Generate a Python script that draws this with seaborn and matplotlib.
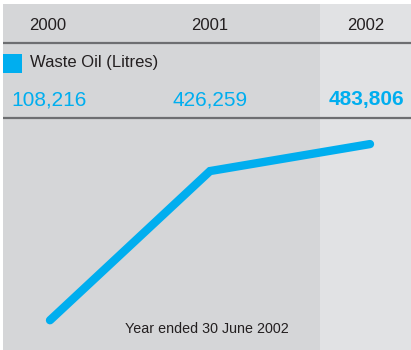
import matplotlib
matplotlib.use("Agg")
import matplotlib.pyplot as plt
import seaborn as sns
import pandas as pd

# Data
years = [2000, 2001, 2002]
year_labels = ["2000", "2001", "2002"]
waste_oil = [108216, 426259, 483806]
series_name = "Waste Oil (Litres)"
footnote = "Year ended 30 June 2002"

sns.set_style("white")
plt.rcParams["font.family"] = ["Liberation Sans", "DejaVu Sans"]

CYAN = "#00aeef"
DARK_PANEL = "#d5d6d8"
LIGHT_PANEL = "#e1e2e4"
RULE = "#6d6e71"
INK = "#231f20"

W, H = 411, 350
fig = plt.figure(figsize=(W / 100, H / 100), dpi=100)
fig.patch.set_facecolor("white")

# Background frame in pixel units
bg = fig.add_axes([0, 0, 1, 1])
bg.set_xlim(0, W)
bg.set_ylim(H, 0)
bg.axis("off")

left, top, split = 3, 4, 320
bg.add_patch(plt.Rectangle((left, top), split - left, H - top, color=DARK_PANEL, lw=0))
bg.add_patch(plt.Rectangle((split, top), W - split, H - top, color=LIGHT_PANEL, lw=0))
for yy in (43, 118):
    bg.plot([left, W], [yy, yy], color=RULE, lw=1.6, solid_capstyle="butt")

# Column headers
col_x = [48, 210, 366]
for x, lab in zip(col_x, year_labels):
    bg.text(x, 25, lab, ha="center", va="center", fontsize=12, color=INK)

# Legend key
bg.add_patch(plt.Rectangle((3, 54), 19, 19, color=CYAN, lw=0))
bg.text(30, 63, series_name, ha="left", va="center", fontsize=12, color=INK)

# Value row
val_x = [11, 172, 404]
for i, (x, v) in enumerate(zip(val_x, waste_oil)):
    last = i == len(waste_oil) - 1
    bg.text(x, 100, f"{v:,}", ha="right" if last else "left", va="center",
            fontsize=15, color=CYAN, fontweight="bold" if last else "normal")

bg.text(207, 329, footnote, ha="center", va="center", fontsize=10.3, color=INK)

# Line chart area
ax = fig.add_axes([left / W, 0, (W - left) / W, (H - 118) / H])
ax.patch.set_alpha(0)
df = pd.DataFrame({"year": years, "litres": waste_oil})
sns.lineplot(data=df, x="year", y="litres", ax=ax, color=CYAN, linewidth=6,
             solid_capstyle="round", solid_joinstyle="miter", clip_on=False)
px_per_year = 160
px_per_unit = 2132
ax.set_xlim(years[0] - 47 / px_per_year, years[-1] + 41 / px_per_year)
ax.set_ylim((371 - 350) * px_per_unit, (371 - 118) * px_per_unit)
ax.axis("off")

fig.savefig("out.png", dpi=100, facecolor="white")
